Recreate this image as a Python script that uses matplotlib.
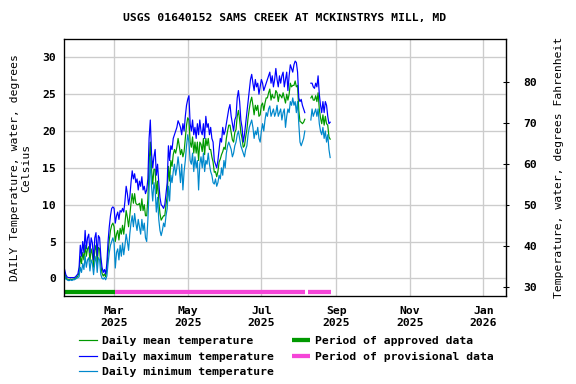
import numpy as np
import pandas as pd
import matplotlib
matplotlib.use('Agg')
import matplotlib.pyplot as plt
import matplotlib.dates as mdates

nan = float('nan')

# daily values, deg C, starting 2025-01-19
start_date = '2025-01-19'

max_temp = [
    1.2, 0.5, 0.2, 0.1, 0.1, 0.1, 0.1, 0.1, 0.1, 0.2,
    0.4, 0.6, 1.5, 4.5, 3.0, 5.0, 3.5, 6.5, 4.0, 5.5,
    6.0, 3.5, 5.5, 4.8, 2.5, 5.5, 6.2, 3.0, 5.8, 5.5,
    3.0, 1.5, 0.8, 1.2, 0.6, 2.0, 5.0, 7.0, 8.5, 9.5,
    9.7, 9.5, 7.5, 8.5, 9.0, 8.0, 9.2, 9.0, 9.5, 9.0,
    10.5, 12.5, 11.5, 10.0, 11.0, 13.0, 14.6, 13.5, 14.2, 13.0,
    13.5, 12.0, 13.2, 12.5, 13.8, 12.0, 12.5, 11.5, 12.0, 13.5,
    19.0, 21.5, 17.0, 15.0, 16.5, 17.5, 14.0, 15.5, 13.0, 11.0,
    10.0, 9.8, 9.5, 10.0, 11.5, 13.0, 18.0, 16.0, 18.0, 17.5,
    19.0, 19.5, 20.0, 20.5, 21.4, 21.0, 20.5, 19.5, 21.0, 20.0,
    22.0, 23.5, 24.3, 24.8, 21.0, 20.0, 21.5, 19.5, 20.5, 19.0,
    21.0, 19.5, 21.5, 20.0, 19.5, 21.0, 19.0, 22.0, 20.5, 21.0,
    19.5, 20.5, 19.0, 18.5, 16.0, 15.5, 15.0, 16.0, 17.5, 19.0,
    18.5, 20.5, 19.5, 20.0, 21.0, 22.0, 23.0, 23.6, 22.0, 21.0,
    20.0, 21.5, 22.0, 24.5, 25.5, 24.0, 21.5, 20.5, 18.5, 19.5,
    21.0, 22.5, 24.0, 25.5, 27.0, 27.7, 26.5, 25.5, 27.0, 26.0,
    26.5, 25.0, 26.0, 27.0, 26.5, 25.5, 26.0, 26.5, 27.0, 27.5,
    28.0, 26.5, 27.5, 26.0, 27.0, 28.5, 27.0, 26.0, 27.5, 26.5,
    27.5, 28.0, 26.0, 27.0, 28.0, 25.5, 27.5, 29.0, 28.5, 28.0,
    29.0, 29.5, 29.3, 28.0, 24.5, 24.0, 24.3, 23.5, 23.0, 22.5,
    nan, nan, nan, nan,
    26.5, 26.5, 26.0, 25.8, 26.5, 26.0, 27.5, 25.0, 23.5, 22.5,
    24.0, 22.5, 24.0, 23.5, 22.0, 21.0, 21.2,
]

mean_temp = [
    0.8, 0.2, -0.1, -0.2, -0.2, -0.1, -0.2, -0.1, -0.1, 0.0,
    0.2, 0.3, 0.8, 3.0, 2.0, 3.5, 2.5, 4.5, 3.0, 4.0,
    4.3, 2.3, 4.0, 3.3, 1.5, 3.8, 4.5, 2.0, 4.2, 4.0,
    1.8, 0.7, 0.3, 0.6, 0.2, 1.2, 3.5, 5.2, 6.5, 7.2,
    7.5, 7.0, 5.0, 6.0, 6.5, 5.2, 6.8, 6.0, 7.2, 6.0,
    7.5, 9.2, 8.3, 7.0, 8.5, 10.2, 11.5, 10.2, 11.5, 10.2,
    10.0, 10.0, 10.2, 9.2, 10.8, 9.2, 10.0, 8.5, 8.5, 10.8,
    15.5, 18.5, 14.8, 12.8, 14.8, 14.8, 11.5, 13.2, 10.5, 8.8,
    7.9, 8.2, 8.5, 8.5, 10.0, 11.2, 15.2, 13.2, 16.0, 15.2,
    16.8, 17.5, 17.0, 17.8, 19.0, 18.0, 16.8, 17.5, 16.5, 17.2,
    19.0, 20.8, 21.8, 21.5, 18.5, 17.8, 19.2, 17.0, 18.5, 17.0,
    18.5, 16.0, 18.5, 18.2, 17.2, 19.0, 16.8, 19.0, 18.0, 19.0,
    17.5, 17.5, 16.5, 15.8, 14.4, 14.5, 13.8, 14.5, 15.8, 16.2,
    16.8, 17.2, 17.8, 17.5, 19.0, 20.0, 20.8, 20.8, 19.8, 18.8,
    18.5, 19.8, 20.2, 22.0, 22.8, 21.5, 19.8, 19.0, 17.8, 18.0,
    19.2, 20.2, 21.8, 23.0, 24.0, 24.6, 23.5, 22.2, 23.5, 22.8,
    23.5, 22.0, 22.2, 23.5, 23.8, 22.8, 23.8, 24.5, 24.5, 25.2,
    25.7, 24.2, 25.0, 24.5, 24.5, 25.5, 25.2, 24.0, 25.0, 24.8,
    24.5, 25.2, 24.5, 23.8, 25.0, 24.2, 25.0, 26.5, 26.0, 26.2,
    26.2, 26.8, 26.0, 26.2, 22.8, 21.3, 21.2, 21.0, 21.2, 21.6,
    nan, nan, nan, nan,
    24.5, 24.8, 24.2, 24.2, 24.8, 24.0, 25.2, 23.0, 21.8, 21.0,
    22.2, 20.8, 22.0, 21.0, 20.8, 19.2, 18.9,
]

min_temp = [
    0.5, -0.1, -0.2, -0.3, -0.3, -0.2, -0.3, -0.2, -0.2, -0.1,
    0.0, 0.1, 0.2, 1.5, 0.8, 2.0, 1.2, 3.0, 1.5, 2.5,
    2.8, 1.0, 2.5, 2.0, 0.5, 2.2, 3.0, 0.8, 2.8, 2.5,
    0.5, 0.0, -0.1, 0.1, -0.2, 0.3, 2.0, 3.5, 4.5, 5.0,
    5.5, 4.8, 1.4, 3.5, 4.0, 2.5, 4.5, 3.0, 4.8, 3.2,
    4.5, 6.0, 5.0, 3.8, 6.0, 7.5, 8.5, 7.0, 8.8, 7.5,
    6.5, 8.0, 7.0, 6.0, 8.0, 6.5, 7.5, 5.5, 5.0, 8.0,
    12.0, 16.5, 12.5, 10.5, 13.0, 12.0, 9.0, 11.0, 8.0, 6.5,
    5.8, 6.5, 7.5, 7.0, 8.5, 9.5, 12.5, 10.5, 14.0, 13.0,
    14.5, 15.5, 14.0, 15.0, 16.5, 15.0, 13.0, 15.5, 12.0, 14.5,
    16.0, 18.0, 19.5, 18.5, 16.0, 15.5, 17.0, 14.5, 16.5, 15.0,
    16.0, 12.0, 15.5, 16.5, 15.0, 17.0, 14.5, 16.0, 15.5, 17.0,
    15.5, 14.5, 14.0, 13.0, 12.8, 13.5, 12.5, 13.0, 14.0, 13.5,
    15.0, 14.0, 16.0, 15.0, 17.0, 18.0, 18.5, 18.0, 17.5, 16.5,
    17.0, 18.0, 18.5, 19.5, 20.0, 19.0, 18.0, 17.5, 17.0, 16.5,
    17.5, 18.0, 19.5, 20.5, 21.0, 21.5, 20.5, 19.0, 20.0, 19.5,
    20.5, 19.0, 18.5, 20.0, 21.0, 20.0, 21.5, 22.5, 22.0, 23.0,
    23.4, 22.0, 22.5, 23.0, 22.0, 22.5, 23.5, 22.0, 22.5, 23.0,
    21.5, 22.5, 23.0, 20.5, 22.0, 23.0, 22.5, 24.0, 23.5, 24.5,
    23.5, 24.0, 22.5, 24.0, 21.0, 18.5, 18.0, 18.5, 19.0, 20.0,
    nan, nan, nan, nan,
    21.5, 23.0, 22.0, 22.5, 23.0, 22.0, 23.0, 21.0, 20.0, 19.5,
    20.5, 19.0, 20.0, 18.5, 19.5, 17.5, 16.4,
]

# data approval periods
approved_periods = [('2025-01-18', '2025-03-02')]
provisional_periods = [('2025-03-02', '2025-08-06'), ('2025-08-09', '2025-08-28')]
period_level = -1.8

dates = pd.date_range(start_date, periods=len(max_temp), freq='D')

plt.rcParams['font.family'] = 'DejaVu Sans Mono'
plt.rcParams['font.weight'] = 'bold'
plt.rcParams['font.size'] = 8.5

fig = plt.figure(figsize=(6, 4), dpi=96)
ax = fig.add_axes([64 / 576, 1 - 296 / 384, 442 / 576, 257 / 384])

ax.plot(dates, mean_temp, color='#009900', lw=0.9, label='Daily mean temperature')
ax.plot(dates, max_temp, color='#0000ff', lw=0.9, label='Daily maximum temperature')
ax.plot(dates, min_temp, color='#0088cc', lw=0.9, label='Daily minimum temperature')

for i, (a, b) in enumerate(approved_periods):
    ax.hlines(period_level, pd.Timestamp(a), pd.Timestamp(b), colors='#009900', lw=3.2,
              capstyle='butt', label='Period of approved data' if i == 0 else None)
for i, (a, b) in enumerate(provisional_periods):
    ax.hlines(period_level, pd.Timestamp(a), pd.Timestamp(b), colors='#f545d8', lw=3.2,
              capstyle='butt', label='Period of provisional data' if i == 0 else None)

ax.set_xlim(pd.Timestamp('2025-01-18 12:00'), pd.Timestamp('2026-01-19 16:00'))
ax.set_ylim(-2.4, 32.5)
ax.set_yticks([0, 5, 10, 15, 20, 25, 30])
ax.xaxis.set_major_locator(mdates.MonthLocator(bymonth=[1, 3, 5, 7, 9, 11]))
ax.xaxis.set_major_formatter(mdates.DateFormatter('%b\n%Y'))
ax.tick_params(axis='both', length=0)
ax.tick_params(axis='y', pad=6)
ax.tick_params(axis='x', pad=7.5)
ax.grid(color='#cccccc', lw=1)
ax.set_axisbelow(True)
for s in ax.spines.values():
    s.set_linewidth(1.0)
ax.set_ylabel('DAILY Temperature, water, degrees\nCelsius', labelpad=8, linespacing=1.15)

ax2 = ax.secondary_yaxis('right', functions=(lambda c: c * 9 / 5 + 32, lambda f: (f - 32) * 5 / 9))
ax2.set_yticks([30, 40, 50, 60, 70, 80])
ax2.tick_params(direction='inout', length=4, width=0.8, pad=11)
ax2.set_ylabel('Temperature, water, degrees Fahrenheit', labelpad=13)

fig.text(285 / 576, 1 - 18 / 384, 'USGS 01640152 SAMS CREEK AT MCKINSTRYS MILL, MD',
         ha='center', va='center')

fig.legend(loc='upper left', bbox_to_anchor=(79 / 576, 1 - 336 / 384), ncol=2,
           frameon=False, borderpad=0, borderaxespad=0, handlelength=1.6,
           handletextpad=0.45, columnspacing=1.55, labelspacing=0.5)

fig.savefig('out.png', dpi=96)
